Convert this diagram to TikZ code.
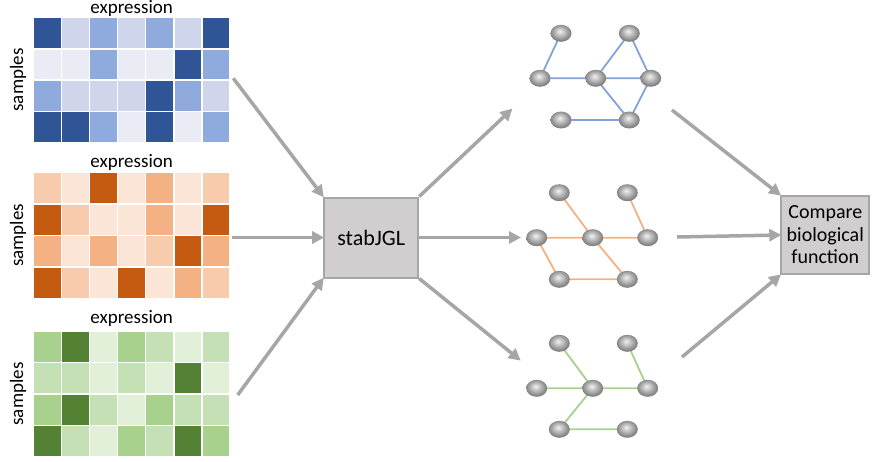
\documentclass[tikz,border=0pt]{standalone}
\usepackage{fontspec}
\setmainfont{Carlito}
\usetikzlibrary{arrows.meta,shapes.geometric}
\definecolor{bA}{RGB}{47,85,151}
\definecolor{bB}{RGB}{143,170,220}
\definecolor{bC}{RGB}{207,213,234}
\definecolor{bD}{RGB}{233,235,245}
\definecolor{oA}{RGB}{197,90,17}
\definecolor{oB}{RGB}{244,177,131}
\definecolor{oC}{RGB}{248,203,173}
\definecolor{oD}{RGB}{251,229,214}
\definecolor{gA}{RGB}{84,130,53}
\definecolor{gB}{RGB}{169,209,142}
\definecolor{gC}{RGB}{197,224,180}
\definecolor{gD}{RGB}{226,240,217}
\definecolor{arr}{RGB}{166,166,166}
\definecolor{boxfill}{RGB}{208,206,206}
\definecolor{eBlue}{RGB}{130,162,218}
\definecolor{eOrange}{RGB}{244,177,131}
\definecolor{eGreen}{RGB}{169,209,142}
\pgfdeclareradialshading{sphereshade}{\pgfpoint{-3bp}{6bp}}{%
  color(0bp)=(black!5); color(8bp)=(black!20); color(18bp)=(black!38); color(25bp)=(black!50); color(50bp)=(black!50)}
\tikzset{
  lbl/.style={font=\fontsize{19}{22}\selectfont, inner sep=0pt},
  procbox/.style={draw=arr, fill=boxfill, line width=2pt, inner sep=0pt, align=center,
    font=\fontsize{20}{22.5}\selectfont},
  flow/.style={draw=arr, line width=3.5pt, -{Triangle[length=12pt,width=12pt]}, shorten >=-1pt},
  gnode/.style={ellipse, minimum width=21pt, minimum height=17pt, inner sep=0pt,
    shading=sphereshade},
  gedge/.style={line width=1.8pt}
}
\newcommand\heatmapat[2]{%
  \foreach \row [count=\r from 0] in {#2} {
    \foreach \c [count=\i from 0] in \row {
      \fill[\c, draw=white, line width=1.5pt] (33.3+\i*28.1, #1+\r*31.45) rectangle ++(28.1,31.45);
    }
  }%
}
\begin{document}
\begin{tikzpicture}[x=1pt,y=-1pt]
\useasboundingbox (0,0) rectangle (872,461);
% heatmaps
\heatmapat{17.3}{{bA,bC,bB,bC,bB,bC,bA},{bD,bD,bB,bD,bD,bA,bB},{bB,bC,bC,bC,bA,bB,bC},{bA,bA,bB,bD,bA,bD,bB}}
\heatmapat{172.7}{{oC,oD,oA,oD,oB,oD,oC},{oA,oC,oD,oD,oB,oD,oA},{oB,oD,oB,oD,oC,oA,oB},{oA,oC,oD,oA,oD,oB,oC}}
\heatmapat{331}{{gB,gA,gD,gB,gC,gD,gC},{gC,gC,gD,gC,gD,gA,gD},{gB,gA,gC,gD,gB,gC,gC},{gA,gC,gD,gB,gC,gA,gB}}
\node[lbl] (ex1) at (131.7,8.5) {expression};
\node[lbl] (ex2) at (131.7,162) {expression};
\node[lbl] (ex3) at (131.7,318.5) {expression};
\node[lbl, rotate=90] (sa1) at (18,80) {samples};
\node[lbl, rotate=90] (sa2) at (18,235.5) {samples};
\node[lbl, rotate=90] (sa3) at (18,394) {samples};
% boxes
\node[procbox, minimum width=94pt, minimum height=80pt, font=\fontsize{22}{24}\selectfont] (stab) at (371.2,237.5) {stabJGL};
\node[procbox, minimum width=88pt, minimum height=78pt] (cmp) at (825.3,235) {Compare\\biological\\function};
% free ends
\coordinate (h1) at (233.3,78.3);
\coordinate (h2) at (232,237.5);
\coordinate (h3) at (237.7,395);
\coordinate (o1) at (511.7,109.3);
\coordinate (o2) at (520,237.5);
\coordinate (o3) at (520,360);
\coordinate (i1) at (672,110);
\coordinate (i2) at (677,237);
\coordinate (i3) at (682,357);
\draw[flow] (h1) -- (stab.north west);
\draw[flow] (h2) -- (stab.west);
\draw[flow] (h3) -- (stab.south west);
\draw[flow] (stab.north east) -- (o1);
\draw[flow] (stab.east) -- (o2);
\draw[flow] (stab.south east) -- (o3);
\draw[flow] (i1) -- (cmp.north west);
\draw[flow] (i2) -- (cmp.west);
\draw[flow] (i3) -- (cmp.south west);
% graph 1
\coordinate (A1) at (561,33.3);   \coordinate (B1) at (629.3,33.3);
\coordinate (C1) at (540,78.3);   \coordinate (D1) at (595.7,78.3); \coordinate (E1) at (650.7,78.3);
\coordinate (F1) at (561,120);    \coordinate (G1) at (629.3,120);
\draw[gedge, eBlue] (A1)--(C1) (C1)--(D1) (D1)--(B1) (B1)--(E1) (D1)--(E1) (D1)--(G1) (E1)--(G1) (F1)--(G1);
\foreach \n in {A1,B1,C1,D1,E1,F1,G1} \node[gnode] (n\n) at (\n) {};
% graph 2
\coordinate (A2) at (559.3,192.7); \coordinate (B2) at (627.3,192.7);
\coordinate (C2) at (536.7,237.7); \coordinate (D2) at (592.7,237.7); \coordinate (E2) at (647.7,237.7);
\coordinate (F2) at (559.3,279.3); \coordinate (G2) at (627.3,279.3);
\draw[gedge, eOrange] (A2)--(D2) (B2)--(E2) (C2)--(D2) (D2)--(E2) (C2)--(F2) (F2)--(G2) (D2)--(G2);
\foreach \n in {A2,B2,C2,D2,E2,F2,G2} \node[gnode] (n\n) at (\n) {};
% graph 3
\coordinate (A3) at (559.3,343.3); \coordinate (B3) at (627.3,343.3);
\coordinate (C3) at (536.7,388.3); \coordinate (D3) at (592.7,388.3); \coordinate (E3) at (647.7,388.3);
\coordinate (F3) at (559.3,429.3); \coordinate (G3) at (627.3,429.3);
\draw[gedge, eGreen] (A3)--(D3) (B3)--(E3) (C3)--(D3) (D3)--(E3) (D3)--(F3) (F3)--(G3);
\foreach \n in {A3,B3,C3,D3,E3,F3,G3} \node[gnode] (n\n) at (\n) {};
\end{tikzpicture}
\end{document}
